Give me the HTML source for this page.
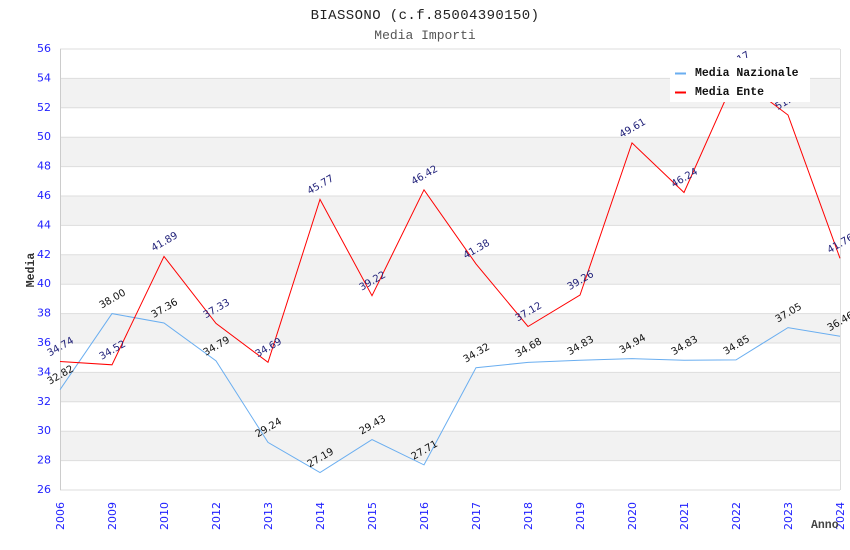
<!DOCTYPE html>
<html>
<head>
<meta charset="utf-8">
<style>
  html, body { margin: 0; padding: 0; background: #ffffff; }
  svg { display: block; }
  .yt { font-family: "DejaVu Sans", "Liberation Sans", sans-serif; font-size: 11px; fill: #1f1fff; }
  .xt { font-family: "DejaVu Sans", "Liberation Sans", sans-serif; font-size: 11px; fill: #1f1fff; }
  .ln { font-family: "DejaVu Sans", "Liberation Sans", sans-serif; font-size: 10px; fill: #111111; }
  .le { font-family: "DejaVu Sans", "Liberation Sans", sans-serif; font-size: 10px; fill: #22227a; }
  .mono { font-family: "Liberation Mono", "DejaVu Sans Mono", monospace; }
</style>
</head>
<body>
<svg width="850" height="550" viewBox="0 0 850 550" xmlns="http://www.w3.org/2000/svg">
  <rect x="0" y="0" width="850" height="550" fill="#ffffff"/>

  <!-- title -->
  <text x="425" y="19" text-anchor="middle" class="mono" font-size="14" letter-spacing="0.4" fill="#222">BIASSONO (c.f.85004390150)</text>
  <text x="425" y="39" text-anchor="middle" class="mono" font-size="13" fill="#555">Media Importi</text>

  <!-- bands (gray) -->
  <g fill="#f2f2f2">
    <rect x="60" y="78.4" width="780" height="29.4"/>
    <rect x="60" y="137.2" width="780" height="29.4"/>
    <rect x="60" y="196" width="780" height="29.4"/>
    <rect x="60" y="254.8" width="780" height="29.4"/>
    <rect x="60" y="313.6" width="780" height="29.4"/>
    <rect x="60" y="372.4" width="780" height="29.4"/>
    <rect x="60" y="431.2" width="780" height="29.4"/>
  </g>
  <!-- grid lines -->
  <g stroke="#dddddd" stroke-width="1">
    <line x1="60" y1="49" x2="840" y2="49"/>
    <line x1="60" y1="78.4" x2="840" y2="78.4"/>
    <line x1="60" y1="107.8" x2="840" y2="107.8"/>
    <line x1="60" y1="137.2" x2="840" y2="137.2"/>
    <line x1="60" y1="166.6" x2="840" y2="166.6"/>
    <line x1="60" y1="196" x2="840" y2="196"/>
    <line x1="60" y1="225.4" x2="840" y2="225.4"/>
    <line x1="60" y1="254.8" x2="840" y2="254.8"/>
    <line x1="60" y1="284.2" x2="840" y2="284.2"/>
    <line x1="60" y1="313.6" x2="840" y2="313.6"/>
    <line x1="60" y1="343" x2="840" y2="343"/>
    <line x1="60" y1="372.4" x2="840" y2="372.4"/>
    <line x1="60" y1="401.8" x2="840" y2="401.8"/>
    <line x1="60" y1="431.2" x2="840" y2="431.2"/>
    <line x1="60" y1="460.6" x2="840" y2="460.6"/>
    <line x1="60" y1="490" x2="840" y2="490"/>
    <line x1="840.5" y1="49" x2="840.5" y2="490"/>
  </g>
  <line x1="60.5" y1="49" x2="60.5" y2="490" stroke="#cccccc" stroke-width="1"/>

  <!-- y tick labels -->
  <g class="yt" text-anchor="end" dominant-baseline="middle">
    <text x="51" y="49">56</text>
    <text x="51" y="78.4">54</text>
    <text x="51" y="107.8">52</text>
    <text x="51" y="137.2">50</text>
    <text x="51" y="166.6">48</text>
    <text x="51" y="196">46</text>
    <text x="51" y="225.4">44</text>
    <text x="51" y="254.8">42</text>
    <text x="51" y="284.2">40</text>
    <text x="51" y="313.6">38</text>
    <text x="51" y="343">36</text>
    <text x="51" y="372.4">34</text>
    <text x="51" y="401.8">32</text>
    <text x="51" y="431.2">30</text>
    <text x="51" y="460.6">28</text>
    <text x="51" y="490">26</text>
  </g>

  <!-- x tick labels -->
  <g class="xt" text-anchor="end">
    <text transform="translate(64,502) rotate(-90)">2006</text>
    <text transform="translate(116,502) rotate(-90)">2009</text>
    <text transform="translate(168,502) rotate(-90)">2010</text>
    <text transform="translate(220,502) rotate(-90)">2012</text>
    <text transform="translate(272,502) rotate(-90)">2013</text>
    <text transform="translate(324,502) rotate(-90)">2014</text>
    <text transform="translate(376,502) rotate(-90)">2015</text>
    <text transform="translate(428,502) rotate(-90)">2016</text>
    <text transform="translate(480,502) rotate(-90)">2017</text>
    <text transform="translate(532,502) rotate(-90)">2018</text>
    <text transform="translate(584,502) rotate(-90)">2019</text>
    <text transform="translate(636,502) rotate(-90)">2020</text>
    <text transform="translate(688,502) rotate(-90)">2021</text>
    <text transform="translate(740,502) rotate(-90)">2022</text>
    <text transform="translate(792,502) rotate(-90)">2023</text>
    <text transform="translate(844,502) rotate(-90)">2024</text>
  </g>

  <!-- axis titles -->
  <text transform="translate(34,270) rotate(-90)" text-anchor="middle" class="mono" font-size="11.5" font-weight="bold" fill="#333">Media</text>
  <text x="811" y="528" class="mono" font-size="11.5" font-weight="bold" fill="#444">Anno</text>

  <!-- series: Media Nazionale -->
  <polyline fill="none" stroke="#6aaef0" stroke-width="1"
    points="60,389.7 112,313.6 164,323.0 216,360.8 268,442.4 320,472.5 372,439.6 424,464.9 476,367.7 528,362.4 580,360.2 632,358.6 684,360.2 736,359.9 788,327.6 840,336.2"/>
  <!-- series: Media Ente -->
  <polyline fill="none" stroke="#ff0000" stroke-width="1"
    points="60,361.5 112,364.8 164,256.4 216,323.4 268,362.3 320,199.4 372,295.7 424,189.8 476,263.9 528,326.5 580,295.1 632,142.9 684,192.5 736,75.9 788,115.0 840,258.3"/>

  <!-- labels Nazionale -->
  <g class="ln" text-anchor="middle">
    <text transform="translate(62,377.7) rotate(-30)">32.82</text>
    <text transform="translate(114,301.6) rotate(-30)">38.00</text>
    <text transform="translate(166,311.0) rotate(-30)">37.36</text>
    <text transform="translate(218,348.8) rotate(-30)">34.79</text>
    <text transform="translate(270,430.4) rotate(-30)">29.24</text>
    <text transform="translate(322,460.5) rotate(-30)">27.19</text>
    <text transform="translate(374,427.6) rotate(-30)">29.43</text>
    <text transform="translate(426,452.9) rotate(-30)">27.71</text>
    <text transform="translate(478,355.7) rotate(-30)">34.32</text>
    <text transform="translate(530,350.4) rotate(-30)">34.68</text>
    <text transform="translate(582,348.2) rotate(-30)">34.83</text>
    <text transform="translate(634,346.6) rotate(-30)">34.94</text>
    <text transform="translate(686,348.2) rotate(-30)">34.83</text>
    <text transform="translate(738,347.9) rotate(-30)">34.85</text>
    <text transform="translate(790,315.6) rotate(-30)">37.05</text>
    <text transform="translate(842,324.2) rotate(-30)">36.46</text>
  </g>
  <!-- labels Ente -->
  <g class="le" text-anchor="middle">
    <text transform="translate(62,349.5) rotate(-30)">34.74</text>
    <text transform="translate(114,352.8) rotate(-30)">34.52</text>
    <text transform="translate(166,244.4) rotate(-30)">41.89</text>
    <text transform="translate(218,311.4) rotate(-30)">37.33</text>
    <text transform="translate(270,350.3) rotate(-30)">34.69</text>
    <text transform="translate(322,187.4) rotate(-30)">45.77</text>
    <text transform="translate(374,283.7) rotate(-30)">39.22</text>
    <text transform="translate(426,177.8) rotate(-30)">46.42</text>
    <text transform="translate(478,251.9) rotate(-30)">41.38</text>
    <text transform="translate(530,314.5) rotate(-30)">37.12</text>
    <text transform="translate(582,283.1) rotate(-30)">39.26</text>
    <text transform="translate(634,130.9) rotate(-30)">49.61</text>
    <text transform="translate(686,180.5) rotate(-30)">46.24</text>
    <text transform="translate(738,63.9) rotate(-30)">54.17</text>
    <text transform="translate(790,103.0) rotate(-30)">51.51</text>
    <text transform="translate(842,246.3) rotate(-30)">41.76</text>
  </g>

  <!-- legend -->
  <rect x="670" y="58" width="140" height="44" fill="#ffffff"/>
  <line x1="675" y1="73.5" x2="686" y2="73.5" stroke="#6aaef0" stroke-width="2"/>
  <line x1="675" y1="92.5" x2="686" y2="92.5" stroke="#ff0000" stroke-width="2"/>
  <text x="695" y="76" class="mono" font-size="11.5" font-weight="bold" fill="#111">Media Nazionale</text>
  <text x="695" y="95" class="mono" font-size="11.5" font-weight="bold" fill="#111">Media Ente</text>
</svg>
</body>
</html>
